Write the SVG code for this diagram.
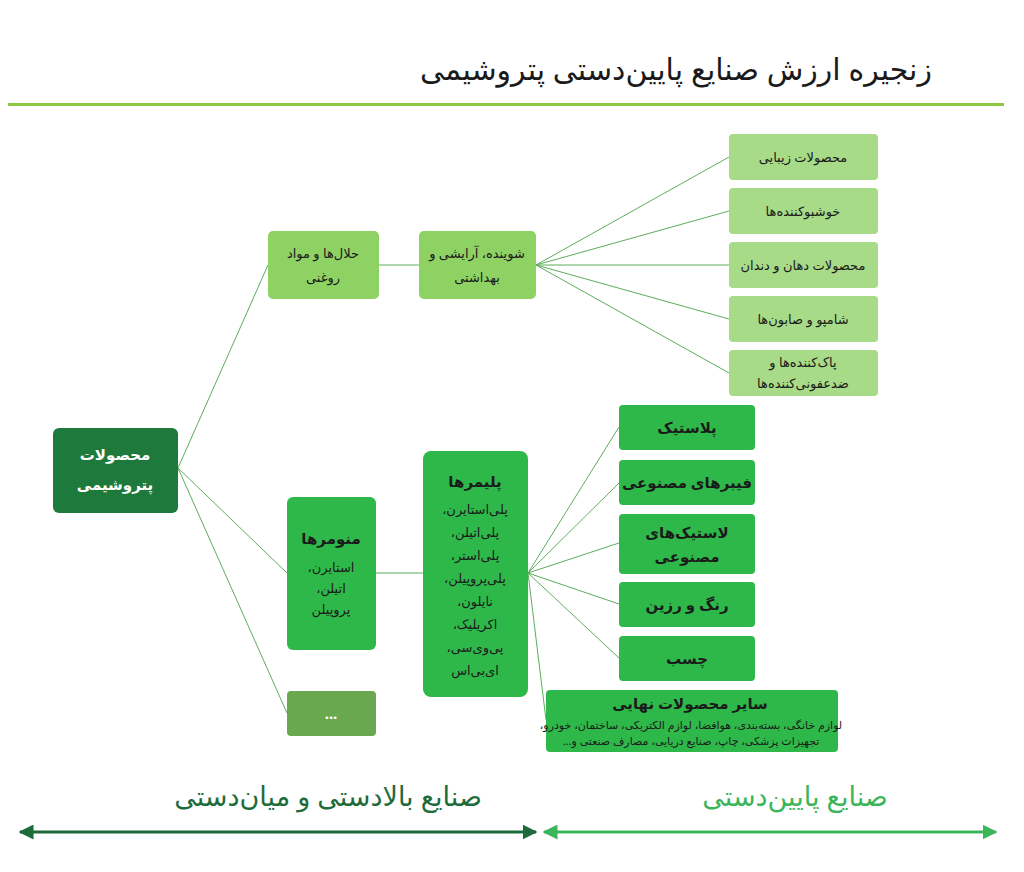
<svg xmlns="http://www.w3.org/2000/svg" width="1024" height="872" viewBox="0 0 1024 872">
<style>
text{font-family:"Noto Sans","DejaVu Sans",sans-serif;text-anchor:middle;direction:rtl;fill:#1a1a1a}
.t{font-size:13px}
.b{font-size:15px;font-weight:bold}
.s{font-size:11px}
.c line{stroke:#5cae5c;stroke-width:1}
.l1{fill:#8fd264}
.l2{fill:#a7db87}
.g{fill:#2fb84a}
</style>
<defs>
<marker id="ad" viewBox="0 0 10 10" refX="9" refY="5" markerWidth="5" markerHeight="5" orient="auto-start-reverse"><path d="M0,0L10,5L0,10z" fill="#1d6b3b"/></marker>
<marker id="al" viewBox="0 0 10 10" refX="9" refY="5" markerWidth="5" markerHeight="5" orient="auto-start-reverse"><path d="M0,0L10,5L0,10z" fill="#3cb55a"/></marker>
</defs>
<rect width="1024" height="872" fill="#fff"/>
<text x="676" y="80" style="font-size:30px">زنجیره ارزش صنایع پایین‌دستی پتروشیمی</text>
<rect x="8" y="103" width="996" height="3" fill="#8dc63f"/>
<g class="c">
<line x1="178" y1="468" x2="268" y2="265"/>
<line x1="178" y1="468" x2="287" y2="573"/>
<line x1="178" y1="468" x2="287" y2="713"/>
<line x1="379" y1="265" x2="419" y2="265"/>
<line x1="536" y1="265" x2="729" y2="157"/>
<line x1="536" y1="265" x2="729" y2="211"/>
<line x1="536" y1="265" x2="729" y2="265"/>
<line x1="536" y1="265" x2="729" y2="319"/>
<line x1="536" y1="265" x2="729" y2="373"/>
<line x1="376" y1="573" x2="423" y2="573"/>
<line x1="528" y1="573" x2="619" y2="427"/>
<line x1="528" y1="573" x2="619" y2="483"/>
<line x1="528" y1="573" x2="619" y2="543"/>
<line x1="528" y1="573" x2="619" y2="604"/>
<line x1="528" y1="573" x2="619" y2="658"/>
<line x1="528" y1="573" x2="546" y2="720"/>
</g>
<g id="n-main"><rect x="53" y="428" width="125" height="85" rx="6" fill="#1e7a3c"/><text class="b" x="115" y="460" style="fill:#fff">محصولات</text><text class="b" x="115" y="490" style="fill:#fff">پتروشیمی</text></g>
<g id="n-halal"><rect x="268" y="231" width="111" height="68" rx="5" class="l1"/><text class="t" x="323" y="258">حلال‌ها و مواد</text><text class="t" x="323" y="282">روغنی</text></g>
<g id="n-shooyande"><rect x="419" y="231" width="117" height="68" rx="5" class="l1"/><text class="t" x="477" y="258">شوینده، آرایشی و</text><text class="t" x="477" y="282">بهداشتی</text></g>
<g id="n-r1"><rect x="729" y="134" width="149" height="46" rx="4" class="l2"/><text class="t" x="803" y="162">محصولات زیبایی</text></g>
<g id="n-r2"><rect x="729" y="188" width="149" height="46" rx="4" class="l2"/><text class="t" x="803" y="216">خوشبوکننده‌ها</text></g>
<g id="n-r3"><rect x="729" y="242" width="149" height="46" rx="4" class="l2"/><text class="t" x="803" y="270">محصولات دهان و دندان</text></g>
<g id="n-r4"><rect x="729" y="296" width="149" height="46" rx="4" class="l2"/><text class="t" x="803" y="324">شامپو و صابون‌ها</text></g>
<g id="n-r5"><rect x="729" y="350" width="149" height="46" rx="4" class="l2"/><text class="t" x="803" y="367">پاک‌کننده‌ها و</text><text class="t" x="803" y="388">ضدعفونی‌کننده‌ها</text></g>
<g id="n-monomer"><rect x="287" y="497" width="89" height="153" rx="6" class="g"/><text class="b" x="331" y="544">منومرها</text><text class="t" x="331" y="572">استایرن،</text><text class="t" x="331" y="593">اتیلن،</text><text class="t" x="331" y="614">پروپیلن</text></g>
<g id="n-dots"><rect x="287" y="691" width="89" height="45" rx="4" fill="#6aa84f"/><text class="b" x="331" y="719" style="fill:#fff">...</text></g>
<g id="n-polymer"><rect x="423" y="451" width="105" height="246" rx="8" class="g"/><text class="b" x="475" y="487">پلیمرها</text>
<text class="t" x="475" y="514">پلی‌استایرن،</text><text class="t" x="475" y="537">پلی‌اتیلن،</text><text class="t" x="475" y="560">پلی‌استر،</text><text class="t" x="475" y="583">پلی‌پروپیلن،</text><text class="t" x="475" y="606">نایلون،</text><text class="t" x="475" y="629">اکریلیک،</text><text class="t" x="475" y="652">پی‌وی‌سی،</text><text class="t" x="475" y="675">ای‌بی‌اس</text></g>
<g id="n-p1"><rect x="619" y="405" width="136" height="45" rx="4" class="g"/><text class="b" x="687" y="433">پلاستیک</text></g>
<g id="n-p2"><rect x="619" y="460" width="136" height="45" rx="4" class="g"/><text class="b" x="687" y="488">فیبرهای مصنوعی</text></g>
<g id="n-p3"><rect x="619" y="514" width="136" height="60" rx="4" class="g"/><text class="b" x="687" y="538">لاستیک‌های</text><text class="b" x="687" y="562">مصنوعی</text></g>
<g id="n-p4"><rect x="619" y="582" width="136" height="45" rx="4" class="g"/><text class="b" x="687" y="610">رنگ و رزین</text></g>
<g id="n-p5"><rect x="619" y="636" width="136" height="45" rx="4" class="g"/><text class="b" x="687" y="664">چسب</text></g>
<g id="n-p6"><rect x="546" y="690" width="292" height="62" rx="4" class="g"/><text class="b" x="690" y="709">سایر محصولات نهایی</text><text class="s" x="691" y="729">لوازم خانگی، بسته‌بندی، هوافضا، لوازم الکتریکی، ساختمان، خودرو،</text><text class="s" x="691" y="745">تجهیزات پزشکی، چاپ، صنایع دریایی، مصارف صنعتی و...</text></g>
<text x="328" y="806" style="font-size:27px;fill:#1e6b3b">صنایع بالادستی و میان‌دستی</text>
<text x="795" y="806" style="font-size:27px;fill:#3cb55a">صنایع پایین‌دستی</text>
<g class="arrows">
<line x1="20" y1="832" x2="536" y2="832" stroke="#1d6b3b" stroke-width="3" marker-start="url(#ad)" marker-end="url(#ad)"/>
<line x1="544" y1="832" x2="996" y2="832" stroke="#3cb55a" stroke-width="3" marker-start="url(#al)" marker-end="url(#al)"/>
</g>
</svg>
